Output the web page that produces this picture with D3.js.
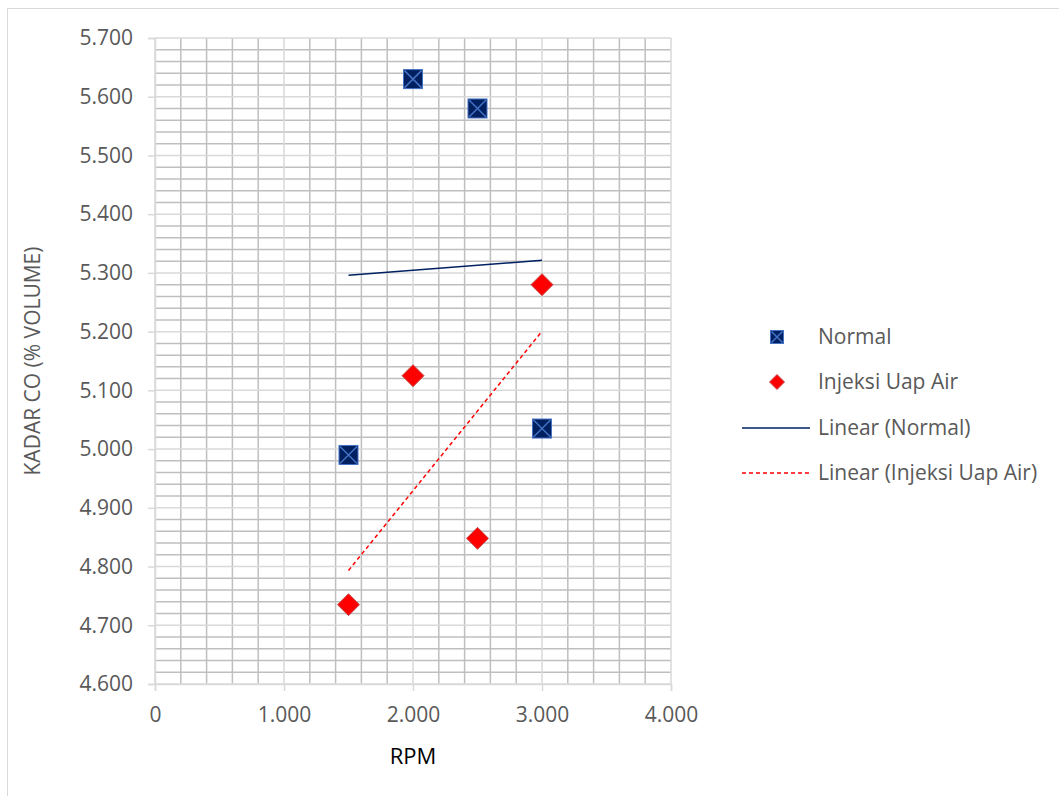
<!DOCTYPE html>
<html>
<head>
<meta charset="utf-8">
<script src="https://cdn.jsdelivr.net/npm/d3@7"></script>
<style>
  body { margin: 0; background: #fff; }
  text { font-family: "Open Sans", "Noto Sans", sans-serif; }
</style>
</head>
<body>
<div id="chart"></div>
<script>
// data
const rpm = [1500, 2000, 2500, 3000];
const normal = [4.990, 5.630, 5.580, 5.035];
const injeksi = [4.735, 5.125, 4.848, 5.280];
const xTicks = [0, 1000, 2000, 3000, 4000];
const yTicks = [4.6, 4.7, 4.8, 4.9, 5.0, 5.1, 5.2, 5.3, 5.4, 5.5, 5.6, 5.7];
const legendLabels = ["Normal", "Injeksi Uap Air", "Linear (Normal)", "Linear (Injeksi Uap Air)"];

const width = 1059, height = 796;
const plot = { left: 155, right: 671, top: 38, bottom: 684 };

const svg = d3.select("#chart").append("svg")
  .attr("width", width)
  .attr("height", height);

// chart border
svg.append("rect")
  .attr("x", 7.5).attr("y", 8.5)
  .attr("width", width).attr("height", height)
  .attr("fill", "none")
  .attr("stroke", "#d9d9d9");

const x = d3.scaleLinear().domain([0, 4000]).range([plot.left, plot.right]);
const y = d3.scaleLinear().domain([4.6, 5.7]).range([plot.bottom, plot.top]);

const fmt = v => v === 0 ? "0" : d3.format(",.0f")(v).replace(/,/g, ".");
const fmtY = v => d3.format(".3f")(v);

// minor grid (darker)
const minorX = d3.range(200, 4000, 200).filter(v => v % 1000 !== 0);
const minorY = d3.range(0, 56).map(i => 4.6 + i * 0.02).filter((v, i) => i % 5 !== 0);

const grid = svg.append("g");
grid.selectAll(".mx").data(minorX).join("line")
  .attr("x1", d => x(d)).attr("x2", d => x(d))
  .attr("y1", plot.top).attr("y2", plot.bottom)
  .attr("stroke", "#bfbfbf").attr("stroke-width", 1.5);
grid.selectAll(".my").data(minorY).join("line")
  .attr("x1", plot.left).attr("x2", plot.right)
  .attr("y1", d => y(d)).attr("y2", d => y(d))
  .attr("stroke", "#bfbfbf").attr("stroke-width", 1.5);

// major grid (lighter)
grid.selectAll(".Mx").data(xTicks).join("line")
  .attr("x1", d => x(d)).attr("x2", d => x(d))
  .attr("y1", plot.top).attr("y2", plot.bottom)
  .attr("stroke", "#d9d9d9").attr("stroke-width", 1.5);
grid.selectAll(".My").data(yTicks).join("line")
  .attr("x1", plot.left).attr("x2", plot.right)
  .attr("y1", d => y(d)).attr("y2", d => y(d))
  .attr("stroke", "#d9d9d9").attr("stroke-width", 1.5);

// axes
const xAxis = svg.append("g")
  .attr("transform", `translate(0,${plot.bottom})`)
  .call(d3.axisBottom(x).tickValues(xTicks).tickFormat(fmt).tickSize(7).tickPadding(16));
const yAxis = svg.append("g")
  .attr("transform", `translate(${plot.left},0)`)
  .call(d3.axisLeft(y).tickValues(yTicks).tickFormat(fmtY).tickSize(7).tickPadding(15));

[xAxis, yAxis].forEach(a => {
  a.select(".domain").attr("stroke", "#d9d9d9").attr("stroke-width", 1.5);
  a.selectAll(".tick line").attr("stroke", "#d9d9d9").attr("stroke-width", 1.5);
  a.selectAll(".tick text")
    .attr("fill", "#595959")
    .style("font-size", "21px")
    .style("font-family", "'Open Sans', sans-serif");
});

// axis titles
svg.append("text")
  .attr("transform", `translate(40,${(plot.top + plot.bottom) / 2}) rotate(-90)`)
  .attr("text-anchor", "middle")
  .attr("fill", "#595959")
  .style("font-size", "21px")
  .text("KADAR CO (% VOLUME)");

svg.append("text")
  .attr("x", x(2000))
  .attr("y", 764)
  .attr("text-anchor", "middle")
  .attr("fill", "#000")
  .style("font-size", "22px")
  .text("RPM");

// linear trend lines
function trend(xs, ys) {
  const mx = d3.mean(xs), my = d3.mean(ys);
  const slope = d3.sum(xs, (v, i) => (v - mx) * (ys[i] - my)) / d3.sum(xs, v => (v - mx) ** 2);
  const b = my - slope * mx;
  const x0 = d3.min(xs), x1 = d3.max(xs);
  return [[x0, b + slope * x0], [x1, b + slope * x1]];
}
const line = d3.line().x(d => x(d[0])).y(d => y(d[1]));

svg.append("path")
  .attr("d", line(trend(rpm, normal)))
  .attr("fill", "none").attr("stroke", "#002060").attr("stroke-width", 1.5);
svg.append("path")
  .attr("d", line(trend(rpm, injeksi)))
  .attr("fill", "none").attr("stroke", "#ff0000").attr("stroke-width", 1.5)
  .attr("stroke-dasharray", "4,3");

// markers
function squareMarker(g, s) {
  g.append("rect")
    .attr("x", -s / 2).attr("y", -s / 2)
    .attr("width", s).attr("height", s)
    .attr("fill", "#002060").attr("stroke", "#4472c4").attr("stroke-width", 1);
  g.append("path")
    .attr("d", `M${-s / 2 + 1},${-s / 2 + 1}L${s / 2 - 1},${s / 2 - 1}M${s / 2 - 1},${-s / 2 + 1}L${-s / 2 + 1},${s / 2 - 1}`)
    .attr("stroke", "#4472c4").attr("stroke-width", 1.5);
}
function diamondMarker(g, r) {
  g.append("path")
    .attr("d", `M0,${-r}L${r},0L0,${r}L${-r},0Z`)
    .attr("fill", "#ff0000").attr("stroke", "#c0504d").attr("stroke-width", 1);
}

rpm.forEach((v, i) => {
  squareMarker(svg.append("g").attr("transform", `translate(${x(v)},${y(normal[i])})`), 19);
});
rpm.forEach((v, i) => {
  diamondMarker(svg.append("g").attr("transform", `translate(${x(v)},${y(injeksi[i])})`), 11);
});

// legend
const legendY = [337, 382, 428, 473];
const legend = svg.append("g");
legendLabels.forEach((lab, i) => {
  legend.append("text")
    .attr("x", 818).attr("y", legendY[i])
    .attr("dy", "0.35em")
    .attr("fill", "#595959")
    .style("font-size", "21px")
    .text(lab);
});
squareMarker(legend.append("g").attr("transform", `translate(777,${legendY[0]})`), 13);
diamondMarker(legend.append("g").attr("transform", `translate(777,${legendY[1]})`), 7.5);
legend.append("line")
  .attr("x1", 742).attr("x2", 810).attr("y1", legendY[2]).attr("y2", legendY[2])
  .attr("stroke", "#002060").attr("stroke-width", 1.5);
legend.append("line")
  .attr("x1", 742).attr("x2", 810).attr("y1", legendY[3]).attr("y2", legendY[3])
  .attr("stroke", "#ff0000").attr("stroke-width", 1.5)
  .attr("stroke-dasharray", "4,3");
</script>
</body>
</html>
